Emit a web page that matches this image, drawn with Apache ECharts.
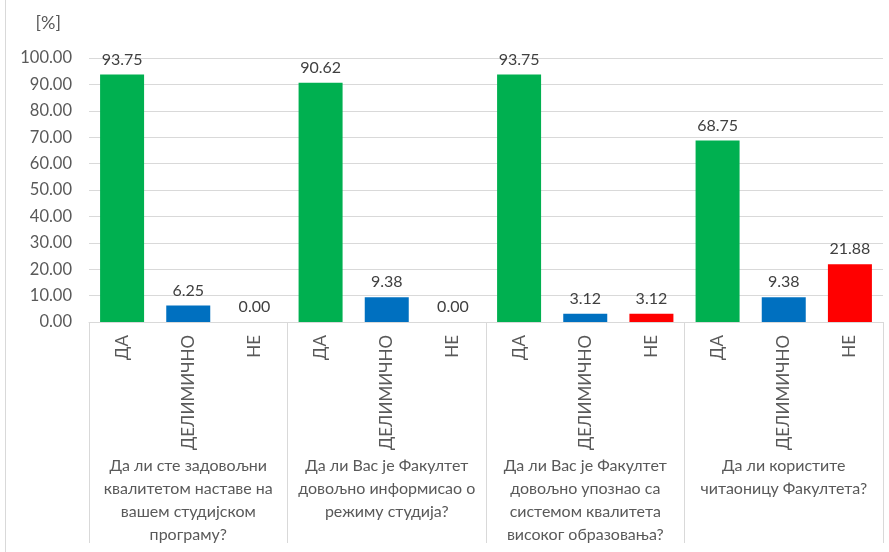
<!DOCTYPE html>
<html>
<head>
<meta charset="utf-8">
<script src="https://cdn.jsdelivr.net/npm/echarts@6/dist/echarts.min.js"></script>
<style>
  html, body { margin: 0; padding: 0; background: #fff; }
  #main { width: 889px; height: 552px; }
</style>
</head>
<body>
<div id="main"></div>
<script>
var myChart = echarts.init(document.getElementById('main'));

// questions (outer category level)
var questions = [
  'Да ли сте задовољни\nквалитетом наставе на\nвашем студијском\nпрограму?',
  'Да ли Вас је Факултет\nдовољно информисао о\nрежиму студија?',
  'Да ли Вас је Факултет\nдовољно упознао са\nсистемом квалитета\nвисоког образовања?',
  'Да ли користите\nчитаоницу Факултета?'
];
// answers (inner category level)
var answers = ['ДА', 'ДЕЛИМИЧНО', 'НЕ'];
var answerColors = ['#00B050', '#0070C0', '#FF0000'];

// percentages per question: [ДА, ДЕЛИМИЧНО, НЕ]
var q1 = [93.75, 6.25, 0.00];
var q2 = [90.62, 9.38, 0.00];
var q3 = [93.75, 3.12, 3.12];
var q4 = [68.75, 9.38, 21.88];
var values = [q1, q2, q3, q4];

var cats = [];
var barData = [];
values.forEach(function (q) {
  q.forEach(function (v, i) {
    cats.push(answers[i]);
    barData.push({ value: v, itemStyle: { color: answerColors[i] } });
  });
});

var font = 'Lato, "Open Sans", sans-serif';
var gray = '#595959';
var lineGray = '#d9d9d9';

var option = {
  textStyle: { fontFamily: font },
  grid: { left: 89, right: 6, top: 58, bottom: 230 },
  xAxis: [{
    type: 'category',
    data: cats,
    axisLine: { lineStyle: { color: lineGray } },
    axisTick: { show: false },
    axisLabel: { rotate: 90, margin: 13, color: gray, fontSize: 17, fontFamily: font }
  }, {
    type: 'category',
    position: 'bottom',
    data: questions,
    axisLine: { show: false },
    axisTick: { show: true, length: 221, lineStyle: { color: lineGray } },
    axisLabel: { margin: 132, color: gray, fontSize: 16, lineHeight: 23, fontFamily: font, interval: 0 }
  }],
  yAxis: {
    type: 'value',
    min: 0, max: 100, interval: 10,
    name: '[%]',
    nameGap: 26,
    nameTextStyle: { color: gray, fontSize: 18, align: 'right', padding: [0, 28, 0, 0], fontFamily: font },
    axisLabel: { color: gray, fontSize: 16.5, margin: 17, fontFamily: font,
      formatter: function (v) { return v.toFixed(2); } },
    splitLine: { lineStyle: { color: lineGray } }
  },
  series: [{
    type: 'bar',
    xAxisIndex: 0,
    data: barData,
    barWidth: 44,
    label: {
      show: true, position: 'top', distance: 7,
      color: '#404040', fontSize: 16, fontFamily: font,
      formatter: function (p) { return p.value.toFixed(2); }
    }
  }],
  graphic: [{
    type: 'rect',
    shape: { x: 5.5, y: -2, width: 900, height: 600 },
    style: { fill: 'none', stroke: lineGray, lineWidth: 1 },
    silent: true
  }]
};
myChart.setOption(option);
</script>
</body>
</html>
